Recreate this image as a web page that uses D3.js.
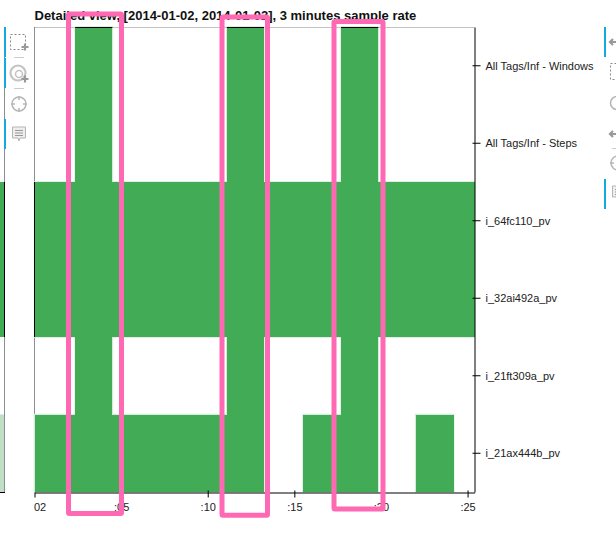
<!DOCTYPE html>
<html>
<head>
<meta charset="utf-8">
<script src="https://cdn.jsdelivr.net/npm/d3@7"></script>
<style>
  html, body { margin: 0; padding: 0; background: #fff; overflow: hidden; }
  svg { display: block; }
  text { font-family: "Liberation Sans", Arial, sans-serif; }
</style>
</head>
<body>
<svg id="chart" width="616" height="534"></svg>
<script>
const titleText = "Detailed view, [2014-01-02, 2014-01-02], 3 minutes sample rate"

// rows, top to bottom
const tags = ["All Tags/Inf - Windows", "All Tags/Inf - Steps", "i_64fc110_pv",
              "i_32ai492a_pv", "i_21ft309a_pv", "i_21ax444b_pv"]

// active spans per tag, in minutes past the hour
const windowSpans = [[2.35, 4.5], [11.1, 13.25], [17.7, 19.85]]
const stepSpans = [[2.35, 4.5], [11.1, 13.25], [17.7, 19.85]]
const fc110Spans = [[0, 25.4]]
const ai492Spans = [[0, 25.4]]
const ft309Spans = [[2.35, 4.5], [11.1, 13.25], [17.7, 19.85]]
const ax444Spans = [[0, 13.25], [15.5, 19.85], [22, 24.2]]
const allSpans = [windowSpans, stepSpans, fc110Spans, ai492Spans, ft309Spans, ax444Spans]

const minuteTicks = [0, 5, 10, 15, 20, 25]
const minuteLabels = ["02", ":05", ":10", ":15", ":20", ":25"]
const minuteDomain = [0, 25.4]

const green = "#42ab55", halo = "#d5ecd9"

const svg = d3.select("#chart")
const plotL = 34.5, plotR = 474.5, plotT = 27, plotB = 492

const x = d3.scaleLinear().domain(minuteDomain).range([plotL, plotR])
const y = d3.scaleBand().domain(tags).range([plotT, plotB])

const cells = allSpans.flatMap((spans, i) =>
  spans.map(s => ({ tag: tags[i], start: s[0], end: s[1] })))

// frame
svg.append("line").attr("x1", plotL).attr("x2", plotR).attr("y1", plotT + .5).attr("y2", plotT + .5)
  .attr("stroke", "#c4c4c4")
svg.append("line").attr("x1", plotL).attr("x2", plotL).attr("y1", plotT).attr("y2", plotB)
  .attr("stroke", "#8a8f94")

// halo goes underneath so seams between touching cells stay hidden
svg.append("g").selectAll("rect").data(cells).enter().append("rect")
  .attr("x", d => x(d.start)).attr("y", d => y(d.tag))
  .attr("width", d => x(d.end) - x(d.start)).attr("height", y.bandwidth())
  .attr("fill", "none").attr("stroke", halo).attr("stroke-width", 1.5)
svg.append("g").attr("shape-rendering", "crispEdges").selectAll("rect").data(cells).enter().append("rect")
  .attr("x", d => x(d.start)).attr("y", d => y(d.tag))
  .attr("width", d => x(d.end) - x(d.start)).attr("height", y.bandwidth())
  .attr("fill", green)

// black frame shows only where a cell touches it
svg.append("g").selectAll("line").data(cells.filter(d => d.tag === tags[0])).enter().append("line")
  .attr("x1", d => x(d.start)).attr("x2", d => x(d.end)).attr("y1", plotT + .5).attr("y2", plotT + .5)
  .attr("stroke", "#000")
svg.append("line").attr("x1", plotL).attr("x2", plotL)
  .attr("y1", y(tags[2])).attr("y2", y(tags[3]) + y.bandwidth()).attr("stroke", "#000")

// left neighbour panel, cut off by the crop
const panel = svg.append("g")
panel.append("rect").attr("x", 0).attr("width", 4.5).attr("y", y(tags[2]))
  .attr("height", y.bandwidth() * 2).attr("fill", green)
panel.append("rect").attr("x", 0).attr("width", 4.5).attr("y", y(tags[5]))
  .attr("height", y.bandwidth()).attr("fill", "#c1dfc5")
panel.append("line").attr("x1", 4.5).attr("x2", 4.5).attr("y1", plotT).attr("y2", plotB).attr("stroke", "#8a8f94")
panel.append("line").attr("x1", 4.5).attr("x2", 4.5).attr("y1", y(tags[2]))
  .attr("y2", y(tags[3]) + y.bandwidth()).attr("stroke", "#000")
panel.append("line").attr("x1", 0).attr("x2", 5).attr("y1", plotB + .5).attr("y2", plotB + .5).attr("stroke", "#000")

// axes
const xAxis = svg.append("g").attr("transform", `translate(0,${plotB + .5})`)
  .call(d3.axisBottom(x).tickValues(minuteTicks)
    .tickFormat((d, i) => minuteLabels[i]).tickSizeOuter(0).tickSizeInner(5).tickPadding(6))
xAxis.select(".domain").attr("stroke", "#000")
xAxis.selectAll(".tick line").attr("y1", -2).attr("y2", 5).attr("stroke", "#000")
xAxis.selectAll("text").attr("font-size", 11).attr("font-family", "Liberation Sans").attr("fill", "#222")
xAxis.selectAll(".tick").filter(d => d === 0).select("text").attr("text-anchor", "start").attr("x", -1)
xAxis.selectAll(".tick").filter(d => d === 0).select("line").attr("y1", 0)

const yAxis = svg.append("g").attr("transform", `translate(${plotR},0)`)
  .call(d3.axisRight(y).tickSizeOuter(0).tickSizeInner(6).tickPadding(5))
yAxis.select(".domain").attr("stroke", "#000")
yAxis.selectAll(".tick line").attr("x1", -2).attr("x2", 6).attr("stroke", "#000")
yAxis.selectAll("text").attr("font-size", 11).attr("font-family", "Liberation Sans").attr("fill", "#222")
  .attr("y", 0.5)

svg.append("text").attr("x", plotL).attr("y", 20)
  .attr("font-size", 13).attr("font-weight", "bold").attr("fill", "#111").text(titleText)

// toolbars
const tools = svg.append("g").attr("fill", "none").attr("stroke", "#b5b5b5").attr("stroke-width", 1.5)
const blue = "#12abe0"
;[[4, 27], [4, 58], [4, 119], [604, 27], [604, 179]].forEach(b =>
  svg.append("rect").attr("x", b[0]).attr("y", b[1]).attr("width", 2).attr("height", 30).attr("fill", blue))
;[[14, 24, 57.5], [14, 24, 88.5]].forEach(s =>
  tools.append("line").attr("x1", s[0]).attr("x2", s[1]).attr("y1", s[2]).attr("y2", s[2]).attr("stroke-width", 1).attr("stroke", "#ccc"))

function plus(g, cx, cy) {
  g.append("path").attr("d", `M${cx - 3.5} ${cy}H${cx + 3.5}M${cx} ${cy - 3.5}V${cy + 3.5}`)
    .attr("stroke", "#999").attr("stroke-width", 2.2)
}
function crosshair(g, cx, cy) {
  g.append("circle").attr("cx", cx).attr("cy", cy).attr("r", 7)
  g.append("path").attr("d", `M${cx - 8} ${cy}H${cx - 4}M${cx + 4} ${cy}H${cx + 8}M${cx} ${cy - 8}V${cy - 4}M${cx} ${cy + 4}V${cy + 8}`)
}
function note(g, cx, cy) {
  g.append("path").attr("d", `M${cx - 6.5} ${cy - 7}H${cx + 6.5}V${cy + 4}L${cx + 1} ${cy + 4}L${cx} ${cy + 7}L${cx - 1} ${cy + 4}H${cx - 6.5}Z`)
    .attr("fill", "#eee").attr("stroke-width", 1)
  g.append("path").attr("d", `M${cx - 4} ${cy - 3.5}H${cx + 4}M${cx - 4} ${cy - 1}H${cx + 4}M${cx - 4} ${cy + 1.5}H${cx + 4}`)
    .attr("stroke-width", 1).attr("stroke", "#999")
}

tools.append("rect").attr("x", 10.5).attr("y", 34.5).attr("width", 15).attr("height", 15)
  .attr("stroke-dasharray", "2 2").attr("stroke-width", 1).attr("stroke", "#888")
plus(tools, 25, 47)
tools.append("circle").attr("cx", 18).attr("cy", 73).attr("r", 7.5).attr("stroke-width", 2.2).attr("stroke", "#c4c4c4")
tools.append("circle").attr("cx", 19).attr("cy", 74).attr("r", 3.5).attr("stroke", "#c4c4c4")
plus(tools, 25, 79)
crosshair(tools, 19, 104)
note(tools, 19, 134)

tools.append("path").attr("d", "M610 42H616M613 39L610 42L613 45").attr("stroke", "#999").attr("stroke-width", 2.2)
tools.append("rect").attr("x", 610.5).attr("y", 63.5).attr("width", 12).attr("height", 16)
  .attr("stroke-dasharray", "2 2").attr("stroke-width", 1).attr("stroke", "#888")
tools.append("circle").attr("cx", 617).attr("cy", 103).attr("r", 6.5)
tools.append("path").attr("d", "M610 134H616M613 131L610 134L613 137").attr("stroke", "#999").attr("stroke-width", 2.2)
tools.append("line").attr("x1", 612).attr("x2", 616).attr("y1", 148.5).attr("y2", 148.5).attr("stroke", "#ccc").attr("stroke-width", 1)
crosshair(tools, 618, 163)
note(tools, 619, 193)

// pink hand-drawn highlights on top of everything
const highlights = [[68.5, 14, 53, 499.5], [222, 17, 45.5, 498.3], [334, 21.5, 49, 487.5]]
svg.append("g").selectAll("rect").data(highlights).enter().append("rect")
  .attr("x", d => d[0]).attr("y", d => d[1]).attr("width", d => d[2]).attr("height", d => d[3])
  .attr("fill", "none").attr("stroke", "#ff69b4").attr("stroke-width", 5).attr("rx", 1)
</script>
</body>
</html>
